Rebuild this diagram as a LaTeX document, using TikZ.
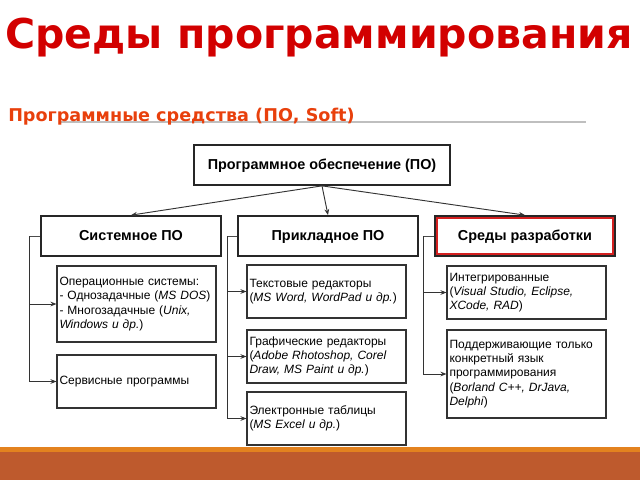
\documentclass[tikz,border=0pt]{standalone}
\usepackage{fontspec}
\setmainfont{Liberation Sans}
\newfontfamily\titlefont{DejaVu Sans}
\usetikzlibrary{arrows.meta}
\definecolor{titlered}{HTML}{D20000}
\definecolor{subred}{HTML}{E8400C}
\definecolor{bandlight}{HTML}{E3821F}
\definecolor{banddark}{HTML}{BE5A2D}
\definecolor{devred}{HTML}{D42020}
\begin{document}
\begin{tikzpicture}[x=0.75pt,y=-0.75pt,
  headbox/.style={draw=black!85, line width=1.3pt, minimum width=135pt, minimum height=30pt, font=\fontsize{10.8pt}{12pt}\selectfont\bfseries, inner sep=0pt, text height=7.8pt, text depth=0.5pt},
  subbox/.style={draw=black!80, line width=0.8pt, minimum width=119.25pt, text width=115.5pt, align=left, inner xsep=1.6pt, font=\fontsize{9pt}{10.7pt}\selectfont},
  conn/.style={draw=black!80, line width=0.7pt, -{Stealth[length=4.5pt,width=3.5pt]}},
  bus/.style={draw=black!70, line width=0.7pt}]
\useasboundingbox (0,0) rectangle (640,480);
% bottom band
\fill[bandlight] (0,447) rectangle (640,452);
\fill[banddark] (0,452) rectangle (640,480);
% titles
\node[anchor=base, text=titlered, font=\titlefont\bfseries\fontsize{30.8pt}{34pt}\selectfont, inner sep=0pt] (title) at (319,48) {Среды программирования};
\draw[gray!50, line width=1.1pt] (60,122) -- (586,122);
\node[anchor=base west, text=subred, font=\titlefont\bfseries\fontsize{13.2pt}{15pt}\selectfont, inner sep=0pt] (subtitle) at (8,121) {Программные средства (ПО, Soft)};
% top box
\node[headbox, minimum width=192pt] (po) at (322,165) {Программное обеспечение (ПО)};
% second row
\node[headbox] (sys) at (131,236) {Системное ПО};
\node[headbox] (app) at (328,236) {Прикладное ПО};
\node[headbox] (dev) at (525,236) {Среды разработки};
\draw[devred, line width=1.4pt] ([shift={(2.5,2.5)}]dev.north west) rectangle ([shift={(-2.5,-2.5)}]dev.south east);
\draw[conn] (po.south) -- (sys.north);
\draw[conn] (po.south) -- (app.north);
\draw[conn] (po.south) -- (dev.north);
% system column
\node[subbox, minimum height=57pt] (os) at (136.5,304) {Операционные системы:\\- Однозадачные (\textit{MS DOS})\\- Многозадачные (\textit{Unix,}\\\textit{Windows и др.})};
\node[subbox, minimum height=39.75pt] (serv) at (136.5,381.5) {Сервисные программы};
\coordinate (lbus) at (29,236);
\draw[bus] (sys.west) -- (lbus);
\draw[conn] (lbus) |- (serv.west);
\draw[conn] (lbus |- os.west) -- (os.west);
% application column
\node[subbox, minimum height=39.75pt] (txt) at (326.5,291.5) {Текстовые редакторы\\(\textit{MS Word, WordPad и др.})};
\node[subbox, minimum height=39.75pt] (gfx) at (326.5,356.5) {Графические редакторы\\(\textit{Adobe Rhotoshop, Corel}\\\textit{Draw, MS Paint и др.})};
\node[subbox, minimum height=39.75pt] (xls) at (326.5,418.5) {Электронные таблицы\\(\textit{MS Excel и др.})};
\coordinate (mbus) at (227,236);
\draw[bus] (app.west) -- (mbus);
\draw[conn] (mbus) |- (xls.west);
\draw[conn] (mbus |- txt.west) -- (txt.west);
\draw[conn] (mbus |- gfx.west) -- (gfx.west);
% development column
\node[subbox, minimum height=39.75pt] (ide) at (526.5,292.5) {Интегрированные\\(\textit{Visual Studio, Eclipse,}\\\textit{XCode, RAD})};
\node[subbox, minimum height=66pt] (lang) at (526.5,374) {Поддерживающие только\\конкретный язык\\программирования\\(\textit{Borland C++, DrJava,}\\\textit{Delphi})};
\coordinate (rbus) at (423,236);
\draw[bus] (dev.west) -- (rbus);
\draw[conn] (rbus) |- (lang.west);
\draw[conn] (rbus |- ide.west) -- (ide.west);
\end{tikzpicture}
\end{document}
